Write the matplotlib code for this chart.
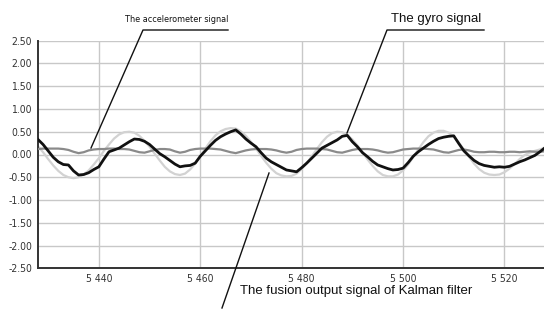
import matplotlib
matplotlib.use("Agg")
import matplotlib.pyplot as plt
from matplotlib.lines import Line2D
from matplotlib.ticker import FuncFormatter

# sample index (one value per step)
t = list(range(5428, 5529))

gyro = [
    0.33, 0.22, 0.08, -0.06, -0.16, -0.22, -0.23, -0.36, -0.45, -0.44,
    -0.40, -0.33, -0.27, -0.10, 0.06, 0.10, 0.14, 0.21, 0.28, 0.34,
    0.33, 0.29, 0.22, 0.12, 0.02, -0.05, -0.13, -0.21, -0.27, -0.25,
    -0.24, -0.19, -0.04, 0.08, 0.20, 0.31, 0.39, 0.45, 0.50, 0.54,
    0.45, 0.34, 0.25, 0.17, 0.04, -0.08, -0.16, -0.22, -0.28, -0.34,
    -0.36, -0.38, -0.29, -0.19, -0.08, 0.03, 0.14, 0.20, 0.26, 0.32,
    0.40, 0.42, 0.28, 0.17, 0.04, -0.05, -0.15, -0.23, -0.27, -0.31,
    -0.34, -0.33, -0.30, -0.18, -0.04, 0.06, 0.14, 0.22, 0.29, 0.35,
    0.38, 0.40, 0.41, 0.24, 0.08, -0.03, -0.13, -0.20, -0.24, -0.26,
    -0.28, -0.27, -0.28, -0.26, -0.21, -0.16, -0.12, -0.07, -0.02, 0.06,
    0.15,
]

kalman = [
    0.18, 0.05, -0.10, -0.24, -0.36, -0.45, -0.50, -0.52, -0.50, -0.44,
    -0.35, -0.22, -0.08, 0.08, 0.22, 0.35, 0.44, 0.49, 0.50, 0.48,
    0.41, 0.30, 0.17, 0.02, -0.13, -0.27, -0.37, -0.43, -0.45, -0.42,
    -0.33, -0.20, -0.04, 0.13, 0.29, 0.42, 0.51, 0.56, 0.58, 0.57,
    0.51, 0.41, 0.28, 0.13, -0.03, -0.18, -0.31, -0.41, -0.46, -0.48,
    -0.47, -0.42, -0.32, -0.19, -0.04, 0.12, 0.27, 0.39, 0.47, 0.50,
    0.49, 0.43, 0.33, 0.20, 0.05, -0.11, -0.25, -0.37, -0.45, -0.48,
    -0.48, -0.44, -0.35, -0.22, -0.06, 0.11, 0.27, 0.40, 0.48, 0.52,
    0.52, 0.48, 0.39, 0.26, 0.11, -0.05, -0.20, -0.32, -0.40, -0.44,
    -0.45, -0.44, -0.39, -0.31, -0.21, -0.10, -0.01, 0.04, 0.08, 0.11,
    0.15,
]

accel = [
    0.12, 0.13, 0.13, 0.13, 0.13, 0.12, 0.10, 0.06, 0.03, 0.05,
    0.09, 0.11, 0.12, 0.12, 0.13, 0.13, 0.12, 0.12, 0.11, 0.08,
    0.05, 0.04, 0.07, 0.10, 0.12, 0.12, 0.11, 0.07, 0.04, 0.06,
    0.10, 0.12, 0.13, 0.13, 0.13, 0.12, 0.11, 0.08, 0.05, 0.03,
    0.06, 0.09, 0.11, 0.12, 0.12, 0.12, 0.11, 0.09, 0.06, 0.04,
    0.06, 0.10, 0.12, 0.13, 0.13, 0.13, 0.12, 0.11, 0.08, 0.05,
    0.04, 0.07, 0.10, 0.12, 0.12, 0.12, 0.11, 0.09, 0.06, 0.04,
    0.05, 0.08, 0.11, 0.12, 0.13, 0.13, 0.13, 0.12, 0.11, 0.08,
    0.05, 0.04, 0.07, 0.10, 0.11, 0.09, 0.06, 0.05, 0.05, 0.06,
    0.06, 0.05, 0.05, 0.06, 0.06, 0.05, 0.06, 0.07, 0.06, 0.06,
    0.07,
]

x_ticks = [5440, 5460, 5480, 5500, 5520]
y_ticks = [-2.5, -2.0, -1.5, -1.0, -0.5, 0.0, 0.5, 1.0, 1.5, 2.0, 2.5]

plt.rcParams['font.family'] = ['DejaVu Sans']
plt.rcParams['font.stretch'] = 'condensed'

W, H = 544, 309
fig = plt.figure(figsize=(W / 100, H / 100), dpi=100)
ax = fig.add_axes([37.5 / W, 1 - 268.3 / H, (W - 37.5) / W, (268.3 - 40.7) / H])

ax.plot(t, kalman, color='#d2d2d2', linewidth=1.6, zorder=2)
ax.plot(t, accel, color='#8a8a8a', linewidth=1.6, zorder=3)
ax.plot(t, gyro, color='#111111', linewidth=2.0, zorder=4)

ax.set_xlim(5427.9, 5527.8)
ax.set_ylim(-2.5, 2.5)
ax.set_xticks(x_ticks)
ax.set_yticks(y_ticks)
ax.xaxis.set_major_formatter(FuncFormatter(lambda v, p: '{:,}'.format(int(v)).replace(',', ' ')))
ax.yaxis.set_major_formatter(FuncFormatter(lambda v, p: '{:.2f}'.format(v)))
ax.tick_params(length=0, labelsize=7.5, colors='#333333', pad=4)
ax.grid(True, color='#c8c8c8', linewidth=1.0)
ax.set_axisbelow(True)
for side in ('top', 'right'):
    ax.spines[side].set_visible(False)
for side in ('left', 'bottom'):
    ax.spines[side].set_color('#333333')
    ax.spines[side].set_linewidth(1.4)


def fig_line(xs, ys, lw=1.0):
    fig.add_artist(Line2D([x / W for x in xs], [1 - y / H for y in ys],
                          color='#111111', linewidth=lw))


# leader lines with labels (pixel positions on the figure)
fig.text(177 / W, 1 - 19 / H, 'The accelerometer signal', ha='center', va='center',
         fontsize=6.5, color='#111111')
fig_line([228, 143, 91], [30, 30, 148])

fig.text(436 / W, 1 - 19 / H, 'The gyro signal', ha='center', va='center',
         fontsize=9.5, color='#111111', family=['Liberation Sans'], fontstretch='normal')
fig_line([484, 387, 347], [30, 30, 133])

fig.text(240 / W, 1 - 291 / H, 'The fusion output signal of Kalman filter', ha='left',
         va='center', fontsize=9.5, color='#111111', family=['Liberation Sans'],
         fontstretch='normal')
fig_line([222, 269], [308, 173])

fig.savefig('out.png', dpi=100)
